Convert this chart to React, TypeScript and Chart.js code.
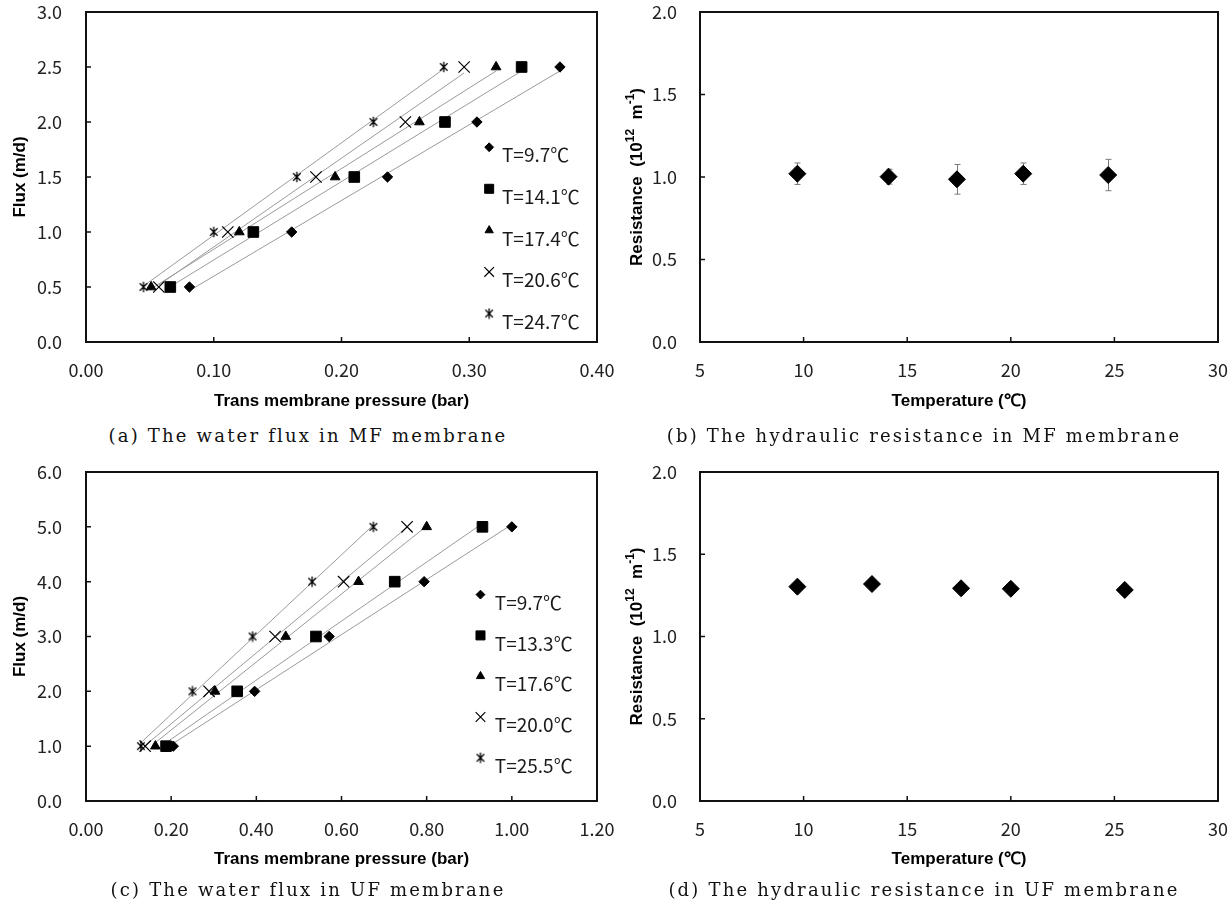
import React, { useEffect, useRef } from "react";
import { Chart, registerables } from "chart.js";
import { drawPoint } from "chart.js/helpers";

Chart.register(...registerables);

// ---------- (a) water flux in MF membrane ----------
const mfFlux = [0.5, 1.0, 1.5, 2.0, 2.5];
const mfLabels = ["T=9.7℃", "T=14.1℃", "T=17.4℃", "T=20.6℃", "T=24.7℃"];
const mfTmpT97 = [0.081, 0.161, 0.236, 0.306, 0.371];
const mfTmpT141 = [0.066, 0.131, 0.21, 0.281, 0.341];
const mfTmpT174 = [0.051, 0.12, 0.195, 0.261, 0.321];
const mfTmpT206 = [0.057, 0.111, 0.18, 0.25, 0.296];
const mfTmpT247 = [0.045, 0.1, 0.165, 0.225, 0.28];
const mfPressureTicks = [0, 0.1, 0.2, 0.3, 0.4];
const mfFluxTicks = [0, 0.5, 1.0, 1.5, 2.0, 2.5, 3.0];

// ---------- (b) hydraulic resistance in MF membrane ----------
const mfTemps = [9.7, 14.1, 17.4, 20.6, 24.7];
const mfResistance = [1.02, 1.002, 0.986, 1.02, 1.012];
const mfResistanceErr = [0.065, 0.045, 0.09, 0.065, 0.095];

// ---------- (c) water flux in UF membrane ----------
const ufFlux = [1, 2, 3, 4, 5];
const ufLabels = ["T=9.7℃", "T=13.3℃", "T=17.6℃", "T=20.0℃", "T=25.5℃"];
const ufTmpT97 = [0.205, 0.396, 0.571, 0.794, 1.0];
const ufTmpT133 = [0.188, 0.355, 0.54, 0.725, 0.931];
const ufTmpT176 = [0.163, 0.303, 0.469, 0.64, 0.8];
const ufTmpT200 = [0.139, 0.289, 0.444, 0.605, 0.754];
const ufTmpT255 = [0.129, 0.25, 0.391, 0.531, 0.675];
const ufPressureTicks = [0, 0.2, 0.4, 0.6, 0.8, 1.0, 1.2];
const ufFluxTicks = [0, 1, 2, 3, 4, 5, 6];

// ---------- (d) hydraulic resistance in UF membrane ----------
const ufTemps = [9.7, 13.3, 17.6, 20.0, 25.5];
const ufResistance = [1.303, 1.319, 1.293, 1.29, 1.283];

const tempTicks = [5, 10, 15, 20, 25, 30];
const resistanceTicks = [0, 0.5, 1.0, 1.5, 2.0];

const captions = [
  "(a) The water flux in MF membrane",
  "(b) The hydraulic resistance in MF membrane",
  "(c) The water flux in UF membrane",
  "(d) The hydraulic resistance in UF membrane",
];

// ---------- styling ----------
const TICK_FONT = { family: '"Noto Sans CJK KR", "Noto Sans", sans-serif', size: 18 };
const TITLE_SIZE = 17;
const TITLE_FONT = { family: '"Liberation Sans", Arial, sans-serif', size: TITLE_SIZE, weight: "bold" as const };
const LEGEND_FONT = '19px "Noto Sans CJK KR", "Noto Sans", sans-serif';

function makeAsterisk(size: number): HTMLCanvasElement {
  const c = document.createElement("canvas");
  c.width = size;
  c.height = size;
  const g = c.getContext("2d")!;
  g.strokeStyle = "#000";
  g.lineWidth = 1.3;
  const m = size / 2;
  const r = size / 2 - 0.8;
  const d = r * 0.72;
  g.beginPath();
  g.moveTo(m, m - r);
  g.lineTo(m, m + r);
  g.moveTo(m - d, m - d);
  g.lineTo(m + d, m + d);
  g.moveTo(m + d, m - d);
  g.lineTo(m - d, m + d);
  g.stroke();
  return c;
}

type MarkerStyle = { pointStyle: any; radius: number; borderWidth: number };

function markerStyles(): MarkerStyle[] {
  return [
    { pointStyle: "rectRot", radius: 5.2, borderWidth: 1 },
    { pointStyle: "rect", radius: 7.5, borderWidth: 1 },
    { pointStyle: "triangle", radius: 5.6, borderWidth: 1 },
    { pointStyle: "crossRot", radius: 8, borderWidth: 1.2 },
    { pointStyle: makeAsterisk(12), radius: 6, borderWidth: 1 },
  ];
}

function fitLine(xs: number[], ys: number[]) {
  const n = xs.length;
  const mx = xs.reduce((a, b) => a + b, 0) / n;
  const my = ys.reduce((a, b) => a + b, 0) / n;
  let sxy = 0;
  let sxx = 0;
  for (let i = 0; i < n; i++) {
    sxy += (xs[i] - mx) * (ys[i] - my);
    sxx += (xs[i] - mx) * (xs[i] - mx);
  }
  const slope = sxy / sxx;
  const icpt = my - slope * mx;
  const x0 = Math.min(...xs);
  const x1 = Math.max(...xs);
  return [
    { x: x0, y: icpt + slope * x0 },
    { x: x1, y: icpt + slope * x1 },
  ];
}

function fluxDatasets(series: number[][], flux: number[], labels: string[]) {
  const styles = markerStyles();
  const out: any[] = [];
  series.forEach((xs, i) => {
    out.push({
      label: labels[i],
      data: xs.map((x, k) => ({ x, y: flux[k] })),
      pointStyle: styles[i].pointStyle,
      pointRadius: styles[i].radius,
      pointBorderWidth: styles[i].borderWidth,
      backgroundColor: "#000",
      borderColor: "#000",
      showLine: false,
      order: 0,
    });
  });
  series.forEach((xs, i) => {
    out.push({
      label: labels[i] + " fit",
      type: "line",
      data: fitLine(xs, flux),
      borderColor: "#9a9a9a",
      borderWidth: 1,
      pointRadius: 0,
      fill: false,
      order: 5,
    });
  });
  return out;
}

function resistanceDatasets(temps: number[], vals: number[], label: string) {
  return [
    {
      label,
      data: temps.map((t, i) => ({ x: t, y: vals[i] })),
      pointStyle: "rectRot",
      pointRadius: 8.5,
      pointBorderWidth: 1,
      backgroundColor: "#000",
      borderColor: "#000",
      showLine: false,
    },
  ];
}

type PanelSpec = {
  left: number;
  top: number;
  width: number;
  height: number;
  plotLeft: number;
  plotRight: number;
  plotTop: number;
  plotBottom: number;
  datasets: any[];
  xTicks: number[];
  yTicks: number[];
  xDec: number;
  yDec: number;
  xTitle: string;
  yTitle: string;
  richYTitle?: boolean;
  yTickPad: number;
  yTitleX: number;
  xTitleY: number;
  legend?: { labels: string[]; mx: number; tx: number; y0: number; dy: number };
  errors?: { temps: number[]; vals: number[]; errs: number[] };
};

function buildConfig(p: PanelSpec): any {
  const styles = markerStyles();
  const yScaleW = p.plotLeft - p.left;
  const xScaleH = p.top + p.height - p.plotBottom;
  const padTop = p.plotTop - p.top;
  const padRight = p.left + p.width - p.plotRight;
  const halfLine = TITLE_SIZE * 0.6;

  const framePlugin = {
    id: "frameTicks",
    beforeDatasetsDraw(chart: any) {
      const { ctx, chartArea: a, scales } = chart;
      const x = scales.x;
      const y = scales.y;
      ctx.save();
      ctx.strokeStyle = "#111";
      ctx.lineWidth = 2;
      ctx.strokeRect(a.left, a.top, a.right - a.left, a.bottom - a.top);
      ctx.lineWidth = 1.5;
      ctx.beginPath();
      x.ticks.forEach((t: any) => {
        const px = x.getPixelForValue(t.value);
        if (px > a.left + 3 && px < a.right - 3) {
          ctx.moveTo(px, a.bottom);
          ctx.lineTo(px, a.bottom - 5);
        }
      });
      y.ticks.forEach((t: any) => {
        const py = y.getPixelForValue(t.value);
        if (py > a.top + 3 && py < a.bottom - 3) {
          ctx.moveTo(a.left, py);
          ctx.lineTo(a.left + 5, py);
        }
      });
      ctx.stroke();
      ctx.restore();

      if (p.errors) {
        const e = p.errors;
        ctx.save();
        ctx.strokeStyle = "#7a7a7a";
        ctx.lineWidth = 1;
        ctx.beginPath();
        e.temps.forEach((t, i) => {
          const px = Math.round(x.getPixelForValue(t)) + 0.5;
          const yt = y.getPixelForValue(e.vals[i] + e.errs[i]);
          const yb = y.getPixelForValue(e.vals[i] - e.errs[i]);
          ctx.moveTo(px, yt);
          ctx.lineTo(px, yb);
          ctx.moveTo(px - 3, yt);
          ctx.lineTo(px + 3, yt);
          ctx.moveTo(px - 3, yb);
          ctx.lineTo(px + 3, yb);
        });
        ctx.stroke();
        ctx.restore();
      }
    },
  };

  const textPlugin = {
    id: "panelText",
    afterDraw(chart: any) {
      const { ctx, chartArea: a } = chart;
      const w = a.right - a.left;
      const h = a.bottom - a.top;
      ctx.save();
      if (p.richYTitle) {
        const big = `bold ${TITLE_SIZE}px "Liberation Sans", Arial, sans-serif`;
        const small = 'bold 12px "Liberation Sans", Arial, sans-serif';
        const parts: [string, string, number][] = [
          ["Resistance  (10", big, 0],
          ["12", small, -6],
          ["  m", big, 0],
          ["-1", small, -6],
          [")", big, 0],
        ];
        let total = 0;
        parts.forEach(([t, f]) => {
          ctx.font = f;
          total += ctx.measureText(t).width;
        });
        ctx.translate(p.yTitleX - p.left, (a.top + a.bottom) / 2);
        ctx.rotate(-Math.PI / 2);
        ctx.fillStyle = "#000";
        ctx.textBaseline = "middle";
        ctx.textAlign = "left";
        let cx = -total / 2;
        parts.forEach(([t, f, dy]) => {
          ctx.font = f;
          ctx.fillText(t, cx, dy);
          cx += ctx.measureText(t).width;
        });
        ctx.setTransform(1, 0, 0, 1, 0, 0);
      }
      ctx.restore();
      ctx.save();
      if (p.legend) {
        const L = p.legend;
        L.labels.forEach((lab, i) => {
          const ty = a.top + (L.y0 + L.dy * i) * h;
          const my = ty - 8;
          const mx = a.left + L.mx * w;
          const s = styles[i];
          ctx.fillStyle = "#000";
          ctx.strokeStyle = "#000";
          ctx.lineWidth = s.borderWidth;
          const r = typeof s.pointStyle === "string" ? s.radius * 0.85 : s.radius;
          drawPoint(ctx, { pointStyle: s.pointStyle, radius: r, rotation: 0, borderWidth: s.borderWidth } as any, mx, my);
          ctx.fillStyle = "#1a1a1a";
          ctx.font = LEGEND_FONT;
          ctx.textAlign = "left";
          ctx.textBaseline = "middle";
          ctx.fillText(lab, a.left + L.tx * w, ty);
        });
      }
      ctx.restore();
    },
  };

  const zeroPad = (s: any) => {
    s.paddingLeft = 0;
    s.paddingRight = 0;
    s.paddingTop = 0;
    s.paddingBottom = 0;
  };

  return {
    type: "scatter",
    data: { datasets: p.datasets },
    options: {
      animation: false,
      responsive: false,
      maintainAspectRatio: false,
      layout: { padding: { left: 0, top: padTop, right: padRight, bottom: 0 } },
      plugins: { legend: { display: false }, tooltip: { enabled: false } },
      scales: {
        x: {
          type: "linear",
          min: p.xTicks[0],
          max: p.xTicks[p.xTicks.length - 1],
          grid: { display: false, drawTicks: false },
          border: { display: false },
          afterBuildTicks: (s: any) => {
            s.ticks = p.xTicks.map((v) => ({ value: v }));
          },
          afterFit: (s: any) => {
            s.height = xScaleH;
            zeroPad(s);
          },
          ticks: {
            padding: 17,
            font: TICK_FONT,
            color: "#222",
            maxRotation: 0,
            autoSkip: false,
            callback: (v: any) => Number(v).toFixed(p.xDec),
          },
          title: {
            display: true,
            text: p.xTitle,
            font: TITLE_FONT,
            color: "#000",
            padding: { top: 0, bottom: p.top + p.height - p.xTitleY - halfLine },
          },
        },
        y: {
          type: "linear",
          min: p.yTicks[0],
          max: p.yTicks[p.yTicks.length - 1],
          grid: { display: false, drawTicks: false },
          border: { display: false },
          afterBuildTicks: (s: any) => {
            s.ticks = p.yTicks.map((v) => ({ value: v }));
          },
          afterFit: (s: any) => {
            s.width = yScaleW;
            zeroPad(s);
          },
          ticks: {
            padding: p.yTickPad,
            font: TICK_FONT,
            color: "#222",
            autoSkip: false,
            callback: (v: any) => Number(v).toFixed(p.yDec),
          },
          title: {
            display: !p.richYTitle,
            text: p.yTitle,
            font: TITLE_FONT,
            color: "#000",
            padding: { top: p.yTitleX - p.left - halfLine, bottom: 0 },
          },
        },
      },
    },
    plugins: [framePlugin, textPlugin],
  };
}

function Panel({ spec }: { spec: PanelSpec }) {
  const ref = useRef<HTMLCanvasElement>(null);
  useEffect(() => {
    const chart = new Chart(ref.current!, buildConfig(spec));
    return () => chart.destroy();
  }, []);
  return (
    <canvas
      ref={ref}
      width={spec.width}
      height={spec.height}
      style={{ position: "absolute", left: spec.left, top: spec.top, width: spec.width, height: spec.height }}
    />
  );
}

const panels: PanelSpec[] = [
  {
    left: 0,
    top: 0,
    width: 616,
    height: 421,
    plotLeft: 86,
    plotRight: 597,
    plotTop: 12,
    plotBottom: 342,
    datasets: fluxDatasets([mfTmpT97, mfTmpT141, mfTmpT174, mfTmpT206, mfTmpT247], mfFlux, mfLabels),
    xTicks: mfPressureTicks,
    yTicks: mfFluxTicks,
    xDec: 2,
    yDec: 1,
    xTitle: "Trans membrane pressure (bar)",
    yTitle: "Flux (m/d)",
    yTickPad: 24,
    yTitleX: 20,
    xTitleY: 401,
    legend: { labels: mfLabels, mx: 0.789, tx: 0.814, y0: 0.434, dy: 0.126 },
  },
  {
    left: 614,
    top: 0,
    width: 618,
    height: 421,
    plotLeft: 700,
    plotRight: 1218,
    plotTop: 12,
    plotBottom: 342,
    datasets: resistanceDatasets(mfTemps, mfResistance, "MF resistance"),
    xTicks: tempTicks,
    yTicks: resistanceTicks,
    xDec: 0,
    yDec: 1,
    xTitle: "Temperature (℃)",
    yTitle: "Resistance (10¹² m⁻¹)",
    richYTitle: true,
    yTickPad: 23,
    yTitleX: 637,
    xTitleY: 401,
    errors: { temps: mfTemps, vals: mfResistance, errs: mfResistanceErr },
  },
  {
    left: 0,
    top: 460,
    width: 616,
    height: 420,
    plotLeft: 86,
    plotRight: 597,
    plotTop: 472,
    plotBottom: 801,
    datasets: fluxDatasets([ufTmpT97, ufTmpT133, ufTmpT176, ufTmpT200, ufTmpT255], ufFlux, ufLabels),
    xTicks: ufPressureTicks,
    yTicks: ufFluxTicks,
    xDec: 2,
    yDec: 1,
    xTitle: "Trans membrane pressure (bar)",
    yTitle: "Flux (m/d)",
    yTickPad: 24,
    yTitleX: 20,
    xTitleY: 859,
    legend: { labels: ufLabels, mx: 0.772, tx: 0.8, y0: 0.397, dy: 0.124 },
  },
  {
    left: 614,
    top: 460,
    width: 618,
    height: 420,
    plotLeft: 700,
    plotRight: 1218,
    plotTop: 472,
    plotBottom: 801,
    datasets: resistanceDatasets(ufTemps, ufResistance, "UF resistance"),
    xTicks: tempTicks,
    yTicks: resistanceTicks,
    xDec: 0,
    yDec: 1,
    xTitle: "Temperature (℃)",
    yTitle: "Resistance (10¹² m⁻¹)",
    richYTitle: true,
    yTickPad: 23,
    yTitleX: 637,
    xTitleY: 859,
  },
];

const captionPos = [
  { left: 0, width: 616, centerY: 436 },
  { left: 616, width: 616, centerY: 436 },
  { left: 0, width: 616, centerY: 890 },
  { left: 616, width: 616, centerY: 890 },
];

export default function App() {
  return (
    <div style={{ position: "absolute", left: 0, top: 0, width: 1232, height: 912, background: "#fff", overflow: "hidden" }}>
      {panels.map((p, i) => (
        <Panel key={i} spec={p} />
      ))}
      {captions.map((c, i) => (
        <div
          key={"c" + i}
          style={{
            position: "absolute",
            left: captionPos[i].left,
            width: captionPos[i].width,
            top: captionPos[i].centerY - 12,
            height: 24,
            lineHeight: "24px",
            textAlign: "center",
            fontFamily: '"DejaVu Serif", "Liberation Serif", serif',
            fontSize: 18,
            letterSpacing: 2.2,
            color: "#111",
            whiteSpace: "nowrap",
          }}
        >
          {c}
        </div>
      ))}
    </div>
  );
}
